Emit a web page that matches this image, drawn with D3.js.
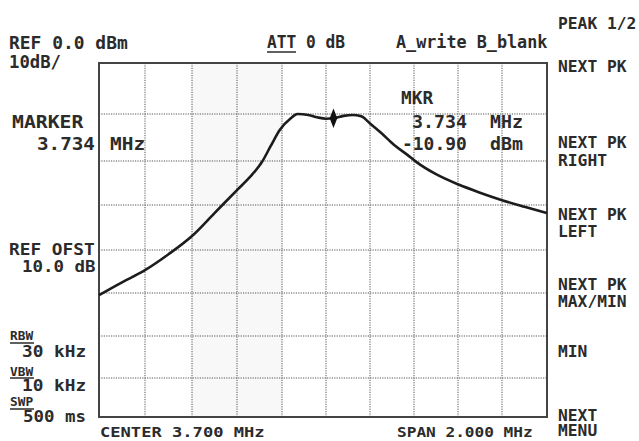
<!DOCTYPE html>
<html>
<head>
<meta charset="utf-8">
<script src="https://cdn.jsdelivr.net/npm/d3@7"></script>
<style>
  body { margin: 0; background: #fff; }
  text { font-family: "DejaVu Sans Mono", monospace; font-weight: bold; fill: #2b2b2b; }
</style>
</head>
<body>
<div class="canvas"></div>
<script>
// trace (MHz / dBm)
const freqs  = [2.70, 2.79, 2.90, 3.00, 3.10, 3.20, 3.30, 3.36, 3.41, 3.45, 3.49, 3.54, 3.57, 3.62, 3.66, 3.70, 3.734,
                3.78, 3.82, 3.86, 3.90, 3.95, 4.01, 4.07, 4.11, 4.20, 4.30, 4.40, 4.50, 4.60, 4.70];
const levels = [-50.5, -47.8, -44.7, -41.0, -36.9, -31.8, -26.6, -23.5, -20.3, -16.8, -13.4, -10.9, -10.0, -10.2, -10.7, -11.0, -10.9,
                -10.4, -10.2, -10.5, -12.0, -14.0, -16.6, -18.7, -20.2, -23.0, -25.3, -27.2, -28.9, -30.4, -31.8];

// marker
const markerFreq = 3.734;
const markerLevel = -10.90;

// grid divisions
const freqTicks = [2.7, 2.9, 3.1, 3.3, 3.5, 3.7, 3.9, 4.1, 4.3, 4.5, 4.7];
const levelTicks = [0, -10, -20, -30, -40, -50, -60, -70, -80];

// softkey menu
const menuLabels = ['PEAK 1/2', 'NEXT PK', 'NEXT PK', 'RIGHT', 'NEXT PK', 'LEFT', 'NEXT PK', 'MAX/MIN', 'MIN', 'NEXT', 'MENU'];
const menuY = [29, 72, 148, 166, 220, 237, 290, 307, 357, 421, 436];

const svg = d3.select('.canvas')
  .append('svg')
    .attr('width', 639)
    .attr('height', 441);

// scanned screen is slightly warped, so the grid positions are measured per division
const x = d3.scaleLinear()
  .domain(freqTicks)
  .range([99, 145, 192, 237, 282, 326, 370, 414, 458, 502, 547]);

const y = d3.scaleLinear()
  .domain(levelTicks)
  .range([63, 114, 161, 205, 250, 293, 336, 378, 417]);

// faint scan shading
svg.append('rect')
  .attr('x', x(3.1)).attr('y', y(0))
  .attr('width', x(3.5) - x(3.1)).attr('height', y(-80) - y(0))
  .attr('fill', '#f8f8f8');

// grid
const grid = svg.append('g')
  .attr('stroke', '#555')
  .attr('stroke-width', 1)
  .attr('stroke-dasharray', '1.2,1.2');

grid.selectAll('.vline')
  .data(freqTicks.slice(1, -1))
  .enter().append('line')
    .attr('x1', d => x(d)).attr('x2', d => x(d))
    .attr('y1', y(0)).attr('y2', y(-80));

grid.selectAll('.hline')
  .data(levelTicks.slice(1, -1))
  .enter().append('line')
    .attr('y1', d => y(d)).attr('y2', d => y(d))
    .attr('x1', x(2.7)).attr('x2', x(4.7));

// frame
svg.append('rect')
  .attr('x', x(2.7)).attr('y', y(0))
  .attr('width', x(4.7) - x(2.7)).attr('height', y(-80) - y(0))
  .attr('fill', 'none')
  .attr('stroke', '#444')
  .attr('stroke-width', 2);

// trace
const line = d3.line()
  .x((d, i) => x(freqs[i]))
  .y(d => y(d))
  .curve(d3.curveMonotoneX);

svg.append('path')
  .datum(levels)
  .attr('d', line)
  .attr('fill', 'none')
  .attr('stroke', '#1c1c1c')
  .attr('stroke-width', 2.6);

svg.append('path')
  .attr('d', d3.symbol(d3.symbolDiamond, 70)())
  .attr('transform', `translate(${x(markerFreq)},${y(markerLevel)}) scale(0.85,1.25)`)
  .attr('fill', '#111');

// text, stretched to match the printer font (adv = char advance, cap = cap height)
const label = (tx, ty, str, adv, cap) => {
  const fs = cap / 0.729;
  const sx = adv / (0.602 * fs);
  return svg.append('text')
    .attr('transform', `translate(${tx},${ty}) scale(${sx},1)`)
    .attr('font-size', fs)
    .attr('xml:space', 'preserve')
    .text(str);
};
const underline = (x1, x2, uy) => {
  svg.append('line')
    .attr('x1', x1).attr('x2', x2).attr('y1', uy).attr('y2', uy)
    .attr('stroke', '#2b2b2b').attr('stroke-width', 1.5);
};

label(9, 49, 'REF 0.0 dBm', 10.8, 13);
label(9, 68, '10dB/', 10.4, 13);
label(267, 48, 'ATT 0 dB', 9.75, 13);
underline(267, 296, 52);
label(396, 48, 'A_write B_blank', 10.1, 13);

label(12, 128, 'MARKER', 11.9, 13);
label(37, 150, `${markerFreq.toFixed(3)}`, 11.6, 13);
label(110, 150, 'MHz', 11.7, 13);

label(401, 104, 'MKR', 10.7, 13);
label(412, 128, `${markerFreq.toFixed(3)}`, 11, 13);
label(490, 128, 'MHz', 11, 13);
label(402, 150, `${markerLevel.toFixed(2)}`, 10.8, 13);
label(490, 150, 'dBm', 11, 13);

label(9, 255, 'REF OFST', 10.7, 12);
label(22, 272, '10.0 dB', 10.5, 12);

label(10, 340, 'RBW', 7.7, 9);
underline(10, 34, 343);
label(22, 357, '30 kHz', 10.7, 11);
label(10, 376, 'VBW', 7.7, 9);
underline(10, 34, 378);
label(22, 391, '10 kHz', 10.7, 11);
label(10, 406, 'SWP', 7.7, 9);
underline(10, 34, 409);
label(23, 422, '500 ms', 10.5, 11);

label(100, 437, 'CENTER 3.700 MHz', 10.3, 10.5);
label(397, 437, 'SPAN 2.000 MHz', 9.7, 10.5);

menuLabels.forEach((m, i) => label(558, menuY[i], m, 9.8, 12));
</script>
</body>
</html>
